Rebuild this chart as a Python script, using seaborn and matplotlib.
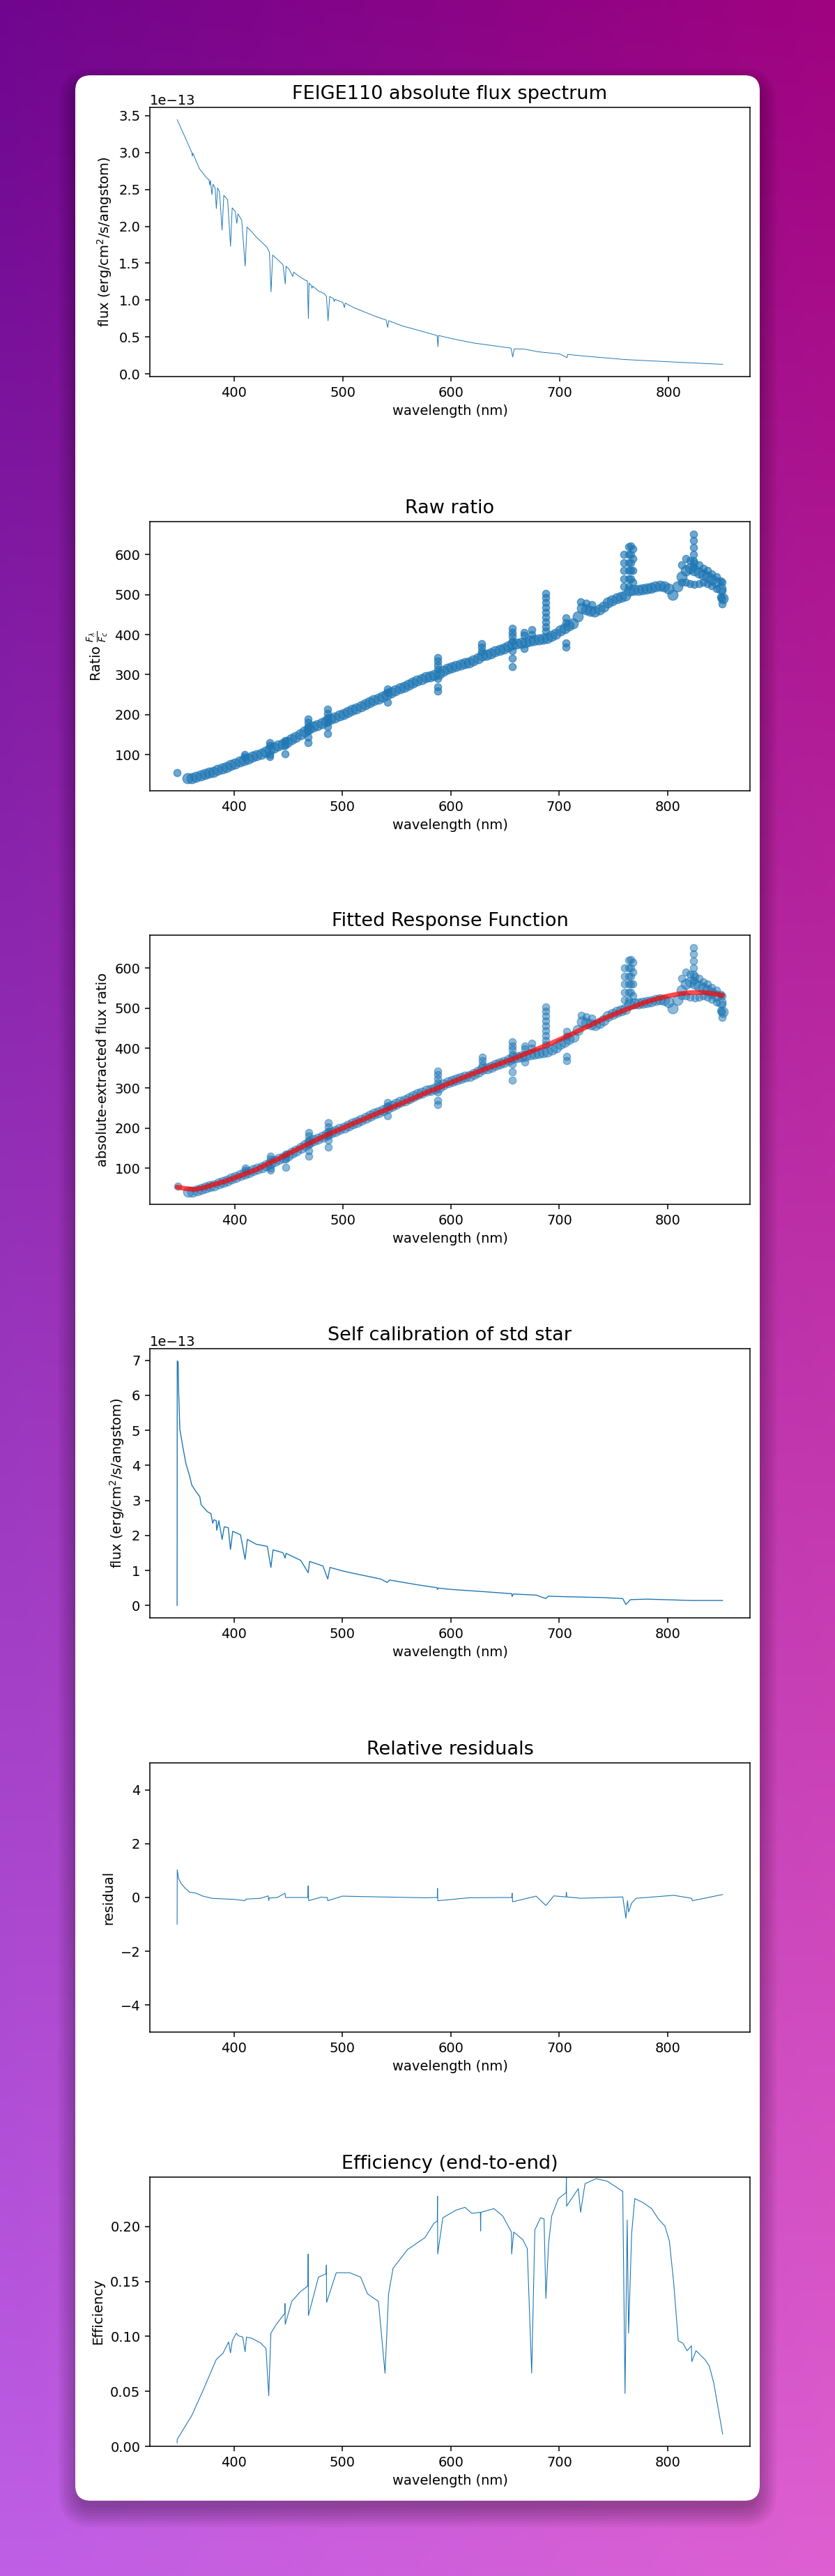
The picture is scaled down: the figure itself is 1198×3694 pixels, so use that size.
import numpy as np
import matplotlib
matplotlib.use("Agg")
import matplotlib.pyplot as plt
from matplotlib.patches import FancyBboxPatch
import seaborn as sns

FLUX_UNIT = 1e-13

# FEIGE110 absolute flux (units of 1e-13 erg/cm2/s/A)
feige_wl = [347.5, 355, 361, 361.5, 362, 368, 374.5, 376.8, 377.5, 378.2, 379.5, 380.6,
            382.5, 383.6, 384.8, 386.5, 388.9, 390.5, 394, 396.7, 398.2, 401, 402.5, 403.5,
            407, 410.2, 411.8, 416, 420, 425, 430, 432.5, 434, 435.5, 440, 445, 447.1, 447.8,
            451, 454, 454.8, 460, 465.5, 467.5, 468.4, 469, 471, 471.7, 472.3, 478, 483, 485,
            486.5, 488, 491.5, 492.2, 492.8, 500, 501.6, 502.3, 510, 520, 530, 540, 541.4,
            542.3, 555, 570, 587, 587.7, 588.3, 600, 620, 640, 655, 656.6, 658, 668, 680, 700,
            706.6, 707.3, 720, 740, 760, 780, 800, 820, 850]
feige_flux = [3.445, 3.20, 3.00, 2.95, 2.99, 2.78, 2.66, 2.63, 2.56, 2.62, 2.43, 2.57,
              2.52, 2.24, 2.52, 2.47, 1.95, 2.42, 2.36, 1.73, 2.25, 2.20, 2.04, 2.17,
              2.08, 1.46, 1.99, 1.93, 1.86, 1.79, 1.72, 1.65, 1.11, 1.61, 1.55, 1.48, 1.22, 1.46,
              1.41, 1.32, 1.38, 1.32, 1.27, 1.26, 0.75, 1.23, 1.20, 1.16, 1.19, 1.12, 1.09, 1.05,
              0.72, 1.05, 1.02, 0.98, 1.01, 0.97, 0.90, 0.96, 0.90, 0.84, 0.78, 0.73, 0.63,
              0.72, 0.65, 0.59, 0.52, 0.37, 0.52, 0.48, 0.42, 0.38, 0.35, 0.23, 0.34, 0.335, 0.30, 0.27,
              0.22, 0.265, 0.245, 0.22, 0.195, 0.18, 0.165, 0.15, 0.13]

# raw ratio F_lambda / F_c : main band
ratio_wl = [357, 361, 365, 369, 373, 377, 381, 385, 389, 393, 397, 401, 405, 409, 413,
            417, 421, 425, 429, 433, 437, 441, 445, 449, 453, 457, 461, 465, 469, 473, 477,
            481, 485, 489, 493, 497, 501, 505, 509, 513, 517, 521, 525, 529, 533, 537, 541,
            545, 549, 553, 557, 561, 565, 569, 573, 577, 581, 585, 589, 593, 597, 601, 605,
            609, 613, 617, 621, 625, 629, 633, 637, 641, 645, 649, 653, 657, 661, 665, 669,
            673, 677, 681, 685, 689, 693, 697, 701, 705, 709, 713, 717, 721, 725, 729, 733,
            737, 741, 745, 749, 753, 757, 761, 765, 769, 773, 777, 781, 785, 789, 793, 797,
            801, 805, 809, 813, 817, 821, 825, 829, 833, 837, 841, 845, 849, 851]
ratio_val = [40, 41, 44, 48, 51, 54, 57, 61, 65, 69, 74, 78, 82, 86, 90,
             94, 98, 102, 107, 113, 118, 123, 127, 132, 138, 144, 151, 158, 164, 170, 174,
             179, 184, 189, 193, 197, 202, 206, 211, 216, 221, 226, 231, 236, 240, 245, 250,
             255, 260, 265, 270, 275, 280, 285, 289, 293, 296, 299, 303, 309, 314, 318, 322,
             325, 328, 331, 336, 341, 348, 350, 353, 358, 362, 366, 370, 375, 377, 379, 381,
             384, 386, 387, 389, 392, 396, 402, 410, 416, 422, 428, 445, 466, 463, 460, 458,
             462, 470, 480, 486, 490, 494, 497, 510, 512, 511, 513, 515, 517, 520, 522, 520,
             516, 500, 520, 545, 560, 565, 560, 555, 550, 545, 538, 530, 515, 490]

# raw ratio : isolated point, spikes and spread of the noisy parts
spike_wl = [347.5, 409.5, 409.5, 433, 433, 433, 433, 447, 447, 447,
            468.5, 468.5, 468.5, 468.5, 468.5, 468.5,
            486.5, 486.5, 486.5, 486.5, 486.5, 486.5, 541.5, 541.5, 541.5,
            587.7, 587.7, 587.7, 587.7, 587.7, 587.7, 587.7, 628.7, 628.7, 628.7,
            656.6, 656.6, 656.6, 656.6, 656.6, 656.6, 656.6, 668, 668, 668, 674.6, 674.6,
            687.7, 687.7, 687.7, 687.7, 687.7, 687.7, 687.7, 687.7, 687.7, 706.6, 706.6, 706.6, 706.6,
            720, 725, 730, 760, 760, 760, 760, 760,
            764, 764, 764, 764, 764, 764, 766, 766, 766, 766, 766, 768, 768, 768, 768,
            813, 817, 821, 825, 829, 833, 837, 841, 845, 849,
            813, 817, 821, 825, 829, 833, 837, 841, 845, 849,
            824, 824, 824, 824, 824, 824, 850.5, 850.5, 850.5, 850.5]
spike_val = [55, 100, 94, 129, 122, 100, 95, 135, 123, 102,
             189, 180, 170, 160, 143, 130,
             213, 203, 193, 182, 170, 153, 264, 256, 231,
             343, 333, 323, 313, 290, 270, 258, 377, 368, 358,
             416, 406, 396, 385, 360, 340, 319, 405, 398, 366, 412, 400,
             503, 492, 480, 468, 456, 444, 432, 420, 408, 442, 430, 380, 369,
             482, 478, 475, 600, 580, 560, 540, 520,
             620, 600, 580, 560, 540, 520, 622, 600, 580, 560, 540, 615, 590, 560, 530,
             575, 590, 585, 580, 575, 565, 560, 552, 545, 535,
             530, 530, 528, 526, 528, 530, 528, 522, 515, 495,
             652, 635, 618, 601, 585, 570, 476, 490, 510, 530]

# fitted response function
fit_wl = [346.7, 355, 363, 370, 379.5, 390, 400, 410, 420.5, 430, 441, 451, 461.5, 472, 482,
          491, 500, 509, 518.9, 531, 543.4, 556, 568, 578, 587.7, 598, 609, 621, 633.6, 646,
          658, 668, 678.7, 689, 699, 709, 719.7, 730, 740, 750, 760.7, 771, 781, 791, 800.8,
          811, 822, 834.4, 843, 850.8]
fit_val = [52.5, 48.5, 46.7, 50, 58, 66, 75.7, 86, 97, 110, 124, 138, 152, 166, 179,
           190, 200, 211, 222, 236, 250, 264, 278, 290, 300, 312, 324, 337, 350, 362,
           374, 385, 397, 408, 420, 432, 446, 459, 472.5, 484, 495.7, 506, 516, 524, 530.5,
           536, 539, 539, 536, 531.6]

# self calibration of the standard star (units of 1e-13)
selfcal_wl = [347.5, 347.6, 348.4, 349, 350, 352.9, 355.7, 359, 361, 365, 368.4, 369.6, 375.4,
              378.7, 380.3, 381.5, 383.6, 384, 386, 389, 391, 394.7, 396.7, 398.8, 406, 410.2,
              412.3, 420.5, 430.7, 434, 436, 445, 447.1, 448, 461.5, 468.4, 469.7, 482, 486.5,
              488.5, 500, 514.8, 535.2, 541.4, 543.4, 568, 587.2, 587.7, 588.3, 600.8, 629.5,
              656, 656.6, 657.5, 678.7, 687.7, 690, 699, 740, 758.6, 761.5, 765.6, 781, 822, 850.8]
selfcal_flux = [0.0, 6.98, 6.95, 6.0, 5.03, 4.5, 4.04, 3.7, 3.44, 3.25, 3.11, 2.88, 2.68,
                2.62, 2.35, 2.45, 2.42, 2.15, 2.42, 1.89, 2.25, 2.22, 1.60, 2.12, 2.02, 1.32,
                1.89, 1.75, 1.69, 1.09, 1.59, 1.51, 1.36, 1.49, 1.29, 0.94, 1.26, 1.13, 0.76,
                1.09, 0.99, 0.89, 0.76, 0.66, 0.73, 0.60, 0.51, 0.46, 0.50, 0.46, 0.40,
                0.34, 0.26, 0.33, 0.30, 0.20, 0.27, 0.26, 0.23, 0.20, 0.03, 0.17, 0.185, 0.146, 0.146]

# relative residuals
resid_wl = [347.5, 347.6, 348.8, 351, 355, 359, 365, 371.3, 379.5, 391.8, 400, 410, 411, 424.6,
            431.5, 432, 432.5, 440, 447, 447.5, 460, 468, 468.4, 468.8, 480, 486, 486.5,
            500, 535, 576, 587.5, 587.7, 588, 617, 656.2, 656.6, 657, 678.7, 687.7, 695, 706.3,
            706.6, 707, 720, 758.6, 761.5, 763, 764, 766.8, 771, 805.7, 822, 823, 850.8]
resid_val = [-1.0, 1.03, 0.71, 0.53, 0.34, 0.20, 0.16, 0.05, -0.03, -0.055, -0.07, -0.12, -0.06, -0.03,
             0.06, -0.12, -0.02, 0.0, 0.16, 0.0, 0.0, 0.0, 0.43, -0.12, 0.01, 0.0, -0.12,
             0.05, 0.02, -0.01, 0.0, 0.34, -0.12, -0.01, 0.0, 0.16, -0.16, 0.05, -0.30, 0.06, 0.02,
             0.20, 0.02, -0.03, 0.02, -0.77, -0.12, -0.54, -0.21, -0.03, 0.08, -0.03, -0.12, 0.11]

# end-to-end efficiency
eff_wl = [347.5, 347.6, 361, 371.3, 383.6, 389.8, 395, 396.7, 398.4, 402, 404, 408, 410.2, 411.5,
          416.4, 424.6, 429.5, 432, 434, 439, 446.8, 447, 447.2, 453.3, 461.5, 468.2, 468.4, 468.6,
          477.9, 485, 485.2, 485.4, 494.3, 506.6, 516.8, 523, 527, 533.2, 539.3, 542.6, 546.7,
          560, 576.2, 584.4, 587.5, 587.7, 587.9, 592.6, 604.9, 613.1, 619.3, 627.3, 627.5, 627.7,
          639.8, 648, 655.9, 656.1, 658, 666.4, 670.5, 674.6, 677.5, 682.8, 686, 687.7, 690.2,
          693, 699.2, 706.4, 706.6, 706.8, 717.6, 719.7, 723.8, 734, 744.3, 758.6, 760.7,
          762.7, 764, 766.8, 769.7, 777, 785.3, 791.4, 797.5, 801.6, 805.7, 809.8, 814, 818,
          822, 822.3, 826.2, 834.4, 838.5, 842.6, 850.8]
eff_val = [0.003, 0.0064, 0.028, 0.0506, 0.079, 0.0847, 0.095, 0.085, 0.096, 0.103, 0.1006, 0.0994,
           0.086, 0.0994, 0.0983, 0.094, 0.089, 0.046, 0.103, 0.111, 0.121, 0.130, 0.111, 0.132,
           0.141, 0.146, 0.175, 0.119, 0.154, 0.157, 0.165, 0.131, 0.158, 0.158, 0.154, 0.139,
           0.136, 0.132, 0.0665, 0.139, 0.162, 0.179, 0.190, 0.203, 0.205, 0.2277, 0.175, 0.208,
           0.215, 0.2175, 0.212, 0.213, 0.196, 0.213, 0.2163, 0.2095, 0.195, 0.175, 0.195, 0.188,
           0.180, 0.0665, 0.197, 0.208, 0.207, 0.1346, 0.1846, 0.2095, 0.2254, 0.231, 0.2445,
           0.2186, 0.2345, 0.213, 0.239, 0.2436, 0.2413, 0.232, 0.048, 0.206, 0.103, 0.1936,
           0.2254, 0.222, 0.2163, 0.207, 0.2004, 0.187, 0.148, 0.096, 0.094, 0.087, 0.0915,
           0.077, 0.087, 0.079, 0.073, 0.0574, 0.011]

W, H = 1198, 3694
LEFT, AX_W, AX_H = 215, 861, 386
TOPS = [154, 748, 1341, 1934, 2528, 3122]
C0 = "#1f77b4"


def axes_rect(top):
    return [LEFT / W, 1 - (top + AX_H) / H, AX_W / W, AX_H / H]


def style_axes(ax, title, ylabel):
    ax.set_title(title, fontsize=19.5, pad=9)
    ax.set_xlabel("wavelength (nm)", fontsize=14, labelpad=5.5)
    ax.set_ylabel(ylabel, fontsize=14, labelpad=5.5)
    ax.tick_params(labelsize=14, length=5, width=1.1, pad=4.8)
    ax.yaxis.get_offset_text().set_fontsize(14)
    for sp in ax.spines.values():
        sp.set_linewidth(1.1)
        sp.set_color("black")
    ax.grid(False)


def ratio_scatter(ax, alpha):
    # dense band first, then the thinner spikes / outliers
    sns.scatterplot(x=ratio_wl, y=ratio_val, ax=ax, s=110, color=C0, alpha=alpha,
                    edgecolor=C0, linewidth=1)
    sns.scatterplot(x=spike_wl, y=spike_val, ax=ax, s=55, color=C0, alpha=alpha,
                    edgecolor=C0, linewidth=1)


def run():
    sns.set_theme(style="ticks", rc={
        "axes.edgecolor": "black", "text.color": "black", "axes.labelcolor": "black",
        "xtick.color": "black", "ytick.color": "black", "axes.facecolor": "white",
    })
    plt.rcParams["font.family"] = ["DejaVu Sans"]

    fig = plt.figure(figsize=(W / 100, H / 100), dpi=100)

    # gradient background + card
    bg = fig.add_axes([0, 0, 1, 1], zorder=-10)
    tl, tr = np.array([112, 6, 143]), np.array([160, 3, 128])
    bl, br = np.array([190, 95, 230]), np.array([222, 95, 208])
    yy, xx = np.mgrid[0:1:200j, 0:1:100j]
    img = ((1 - yy)[..., None] * ((1 - xx)[..., None] * tl + xx[..., None] * tr)
           + yy[..., None] * ((1 - xx)[..., None] * bl + xx[..., None] * br)) / 255
    bg.imshow(img, extent=[0, W, H, 0], aspect="auto", interpolation="bilinear")
    for i in range(8):
        g = 4 * i
        bg.add_patch(FancyBboxPatch((108 - g + 4, 108 - g + 18), 982 + 2 * g - 8, 3478 + 2 * g - 8,
                                    boxstyle="round,pad=0,rounding_size=%d" % (22 + g),
                                    fc="black", ec="none", alpha=0.04))
    bg.add_patch(FancyBboxPatch((108, 108), 982, 3478, boxstyle="round,pad=0,rounding_size=22",
                                fc="white", ec="none"))
    bg.set_xlim(0, W)
    bg.set_ylim(H, 0)
    bg.axis("off")

    axes = [fig.add_axes(axes_rect(t)) for t in TOPS]

    # 1. FEIGE110 absolute flux
    ax = axes[0]
    sns.lineplot(x=np.array(feige_wl), y=np.array(feige_flux) * FLUX_UNIT, ax=ax,
                 estimator=None, sort=False, color=C0, lw=0.7)
    style_axes(ax, "FEIGE110 absolute flux spectrum", r"flux (erg/cm$^2$/s/angstom)")

    # 2. raw ratio
    ax = axes[1]
    ratio_scatter(ax, 0.65)
    style_axes(ax, "Raw ratio", r"Ratio $\frac{F_\lambda}{F_c}$")

    # 3. fitted response
    ax = axes[2]
    ratio_scatter(ax, 0.5)
    sns.lineplot(x=fit_wl, y=fit_val, ax=ax, estimator=None, sort=False,
                 color="red", lw=5, alpha=0.7)
    style_axes(ax, "Fitted Response Function", "absolute-extracted flux ratio")

    # 4. self calibration
    ax = axes[3]
    sns.lineplot(x=np.array(selfcal_wl), y=np.array(selfcal_flux) * FLUX_UNIT, ax=ax,
                 estimator=None, sort=False, color=C0, lw=1.0)
    style_axes(ax, "Self calibration of std star", r"flux (erg/cm$^2$/s/angstom)")

    # 5. residuals
    ax = axes[4]
    sns.lineplot(x=resid_wl, y=resid_val, ax=ax, estimator=None, sort=False, color=C0, lw=0.8)
    ax.set_ylim(-5, 5)
    style_axes(ax, "Relative residuals", "residual")

    # 6. efficiency
    ax = axes[5]
    sns.lineplot(x=eff_wl, y=eff_val, ax=ax, estimator=None, sort=False, color=C0, lw=0.8)
    ax.set_ylim(0, 0.245)
    style_axes(ax, "Efficiency (end-to-end)", "Efficiency")

    for ax in axes:
        ax.set_xticks([400, 500, 600, 700, 800])

    fig.savefig("out.png", dpi=100)
    plt.close(fig)


if __name__ == "__main__":
    run()
